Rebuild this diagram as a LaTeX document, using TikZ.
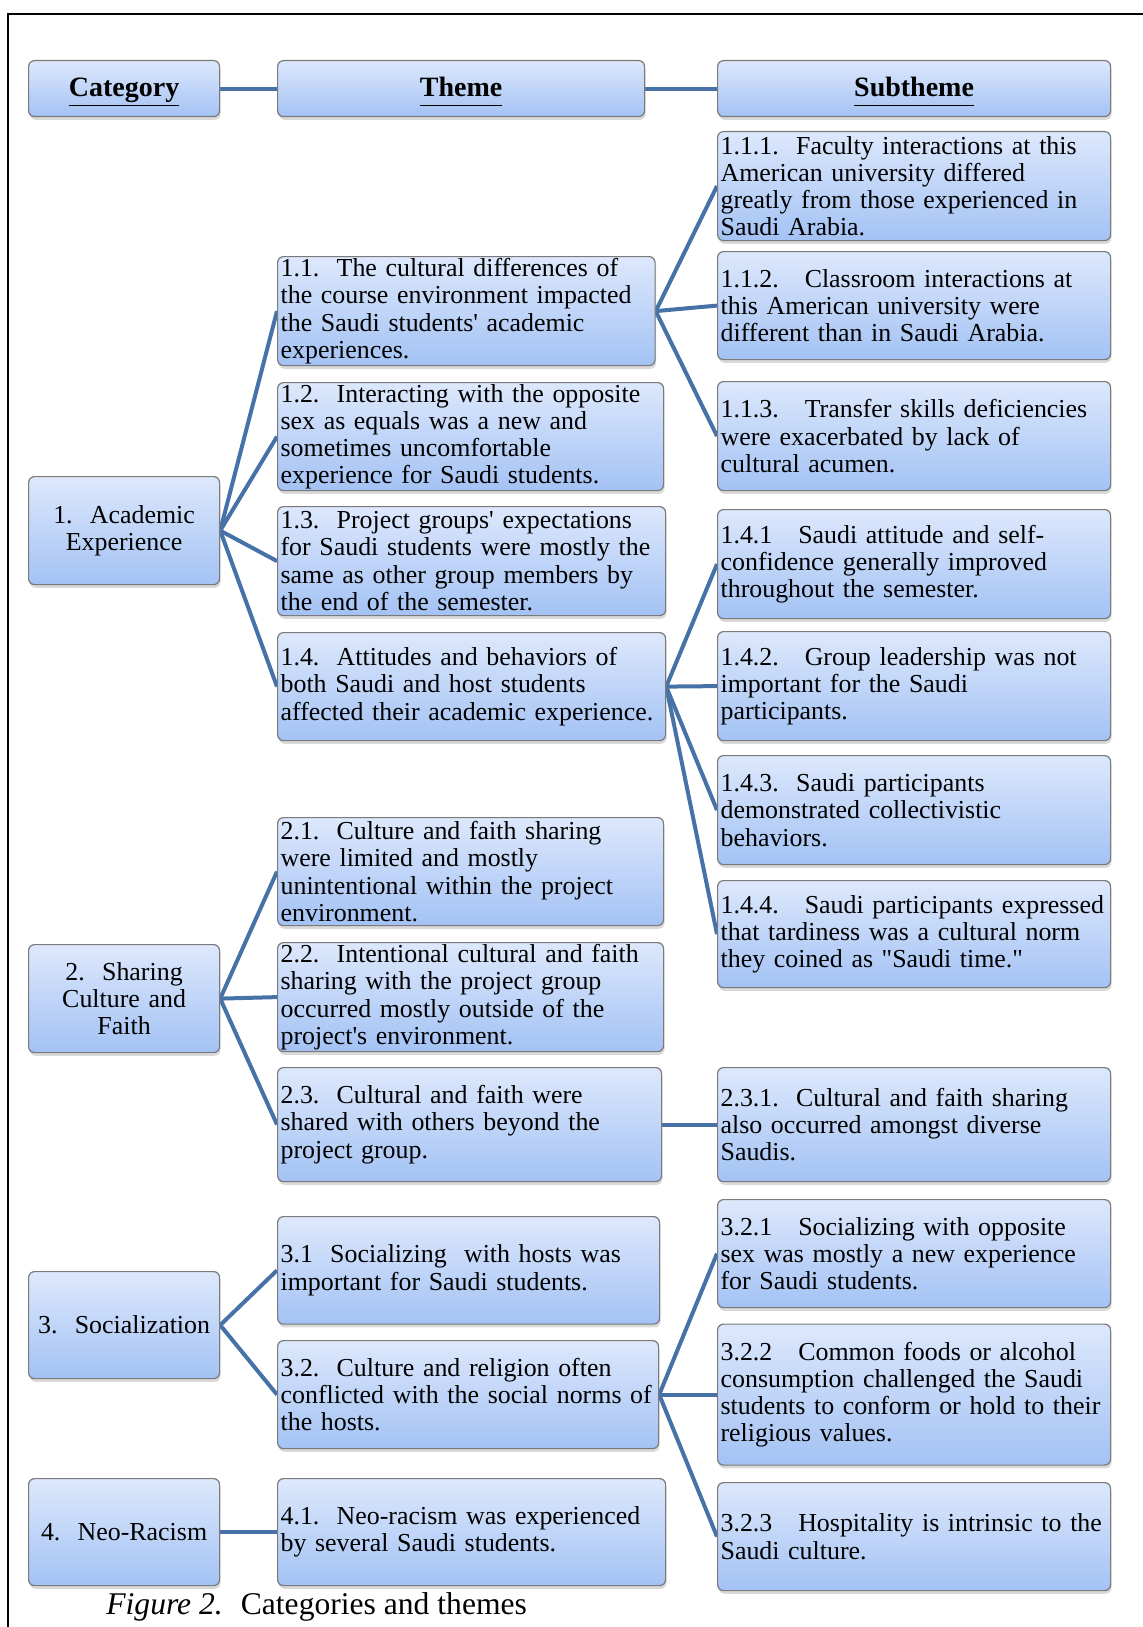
\documentclass[tikz,border=0pt]{standalone}
\usepackage{fontspec}
\setmainfont{Liberation Serif}
\usetikzlibrary{shadows,backgrounds}

\definecolor{boxtop}{RGB}{221,232,252}
\definecolor{boxbot}{RGB}{163,194,244}
\definecolor{boxline}{RGB}{122,122,122}
\definecolor{linkblue}{RGB}{71,114,168}

\hyphenpenalty=10000
\newcommand{\hdrline}[1]{\underline{#1\vphantom{hgy}}}

\begin{document}
\begin{tikzpicture}[x=0.5pt,y=-0.5pt,
  basebox/.style={draw=boxline, line width=0.6pt, rounded corners=3pt,
    top color=boxtop, bottom color=boxbot,
    drop shadow={shadow xshift=0.5pt, shadow yshift=-1.6pt, opacity=0.3},
    anchor=north west, inner xsep=1.5pt, inner ysep=0pt,
    font=\fontsize{12.95}{13.6}\selectfont},
  hdrbox/.style={basebox, align=center, minimum height=28pt, text height=12.5pt,
    font=\fontsize{14}{16}\selectfont\bfseries},
  catbox/.style={basebox, align=center, text width=92.5pt},
  themebox/.style={basebox, align=left},
  subbox/.style={basebox, align=left, text width=193.5pt},
  link/.style={draw=linkblue, line width=2pt}]
\useasboundingbox (0,0) rectangle (1143,1627);

% frame
\draw[line width=1pt] (7.5,1627) -- (7.5,14) -- (1143,14);

% header row
\node[hdrbox, minimum width=95.5pt] (hcat) at (28,60) {\hdrline{Category}};
\node[hdrbox, minimum width=183.5pt] (htheme) at (277,60) {\hdrline{Theme}};
\node[hdrbox, minimum width=196.5pt] (hsub) at (717,60) {\hdrline{Subtheme}};

% categories
\node[catbox, minimum height=54pt] (c1) at (28,476) {1.~~Academic\\Experience};
\node[catbox, minimum height=54pt] (c2) at (28,944) {2.~~Sharing\\Culture and\\Faith};
\node[catbox, minimum height=53.5pt] (c3) at (28,1271) {3.~~Socialization};
\node[catbox, minimum height=53.5pt] (c4) at (28,1478) {4.~~Neo-Racism};

% themes
\node[themebox, text width=185.75pt, minimum height=54.5pt] (t11) at (277,256)
  {1.1.~~The cultural differences of\\the course environment impacted\\the Saudi students\textquotesingle{} academic\\experiences.};
\node[themebox, text width=190pt, minimum height=54pt] (t12) at (277,382)
  {1.2.~~Interacting with the opposite\\sex as equals was a new and\\sometimes uncomfortable\\experience for Saudi students.};
\node[themebox, text width=191pt, minimum height=54.5pt] (t13) at (277,506)
  {1.3.~~Project groups\textquotesingle{} expectations\\for Saudi students were mostly the\\same as other group members by\\the end of the semester.};
\node[themebox, text width=191pt, minimum height=54pt] (t14) at (277,632)
  {1.4.~~Attitudes and behaviors of\\both Saudi and host students\\affected their academic experience.};
\node[themebox, text width=190pt, minimum height=54pt] (t21) at (277,817)
  {2.1.~~Culture and faith sharing\\were limited and mostly\\unintentional within the project\\environment.};
\node[themebox, text width=190pt, minimum height=54.5pt] (t22) at (277,942)
  {2.2.~~Intentional cultural and faith\\sharing with the project group\\occurred mostly outside of the\\project\textquotesingle{}s environment.};
\node[themebox, text width=189pt, minimum height=57pt] (t23) at (277,1067)
  {2.3.~~Cultural and faith were\\shared with others beyond the\\project group.};
\node[themebox, text width=188pt, minimum height=53.75pt] (t31) at (277,1216)
  {3.1~~Socializing~~with hosts was\\important for Saudi students.};
\node[themebox, text width=187.5pt, minimum height=54pt] (t32) at (277,1340)
  {3.2.~~Culture and religion often\\conflicted with the social norms of\\the hosts.};
\node[themebox, text width=191pt, minimum height=53.5pt] (t41) at (277,1478)
  {4.1.~~Neo-racism was experienced\\by several Saudi students.};

% subthemes
\node[subbox, minimum height=54.5pt] (s111) at (717,131)
  {1.1.1.~~Faculty interactions at this\\American university differed\\greatly from those experienced in\\Saudi Arabia.};
\node[subbox, minimum height=54pt] (s112) at (717,251)
  {1.1.2.~~~Classroom interactions at\\this American university were\\different than in Saudi Arabia.};
\node[subbox, minimum height=54.5pt] (s113) at (717,381)
  {1.1.3.~~~Transfer skills deficiencies\\were exacerbated by lack of\\cultural acumen.};
\node[subbox, minimum height=54.5pt] (s141) at (717,509)
  {1.4.1~~~Saudi attitude and self-\\confidence generally improved\\throughout the semester.};
\node[subbox, minimum height=54.5pt] (s142) at (717,631)
  {1.4.2.~~~Group leadership was not\\important for the Saudi\\participants.};
\node[subbox, minimum height=54.5pt] (s143) at (717,755)
  {1.4.3.~~Saudi participants\\demonstrated collectivistic\\behaviors.};
\node[subbox, minimum height=53.5pt] (s144) at (717,880)
  {1.4.4.~~~Saudi participants expressed\\that tardiness was a cultural norm\\they coined as \textquotedbl Saudi time.\textquotedbl};
\node[subbox, minimum height=57pt] (s231) at (717,1067)
  {2.3.1.~~Cultural and faith sharing\\also occurred amongst diverse\\Saudis.};
\node[subbox, minimum height=54pt] (s321) at (717,1199)
  {3.2.1~~~Socializing with opposite\\sex was mostly a new experience\\for Saudi students.};
\node[subbox, minimum height=70.5pt] (s322) at (717,1323.5)
  {3.2.2~~~Common foods or alcohol\\consumption challenged the Saudi\\students to conform or hold to their\\religious values.};
\node[subbox, minimum height=54pt] (s323) at (717,1482)
  {3.2.3~~~Hospitality is intrinsic to the\\Saudi culture.};

% caption
\node[anchor=base west, inner sep=0pt, font=\fontsize{15.8}{18}\selectfont] (cap) at (106,1614)
  {\textit{Figure 2.}\hspace{9pt}Categories and themes};

% connectors
\begin{scope}[on background layer]
\draw[link] (hcat.east) -- (htheme.west);
\draw[link] (htheme.east) -- (hsub.west);
\foreach \t in {t11,t12,t13,t14} {
\draw[link] (c1.east) -- (\t.west);
}
\foreach \t in {t21,t22,t23} {
\draw[link] (c2.east) -- (\t.west);
}
\foreach \t in {t31,t32} {
\draw[link] (c3.east) -- (\t.west);
}
\draw[link] (c4.east) -- (t41.west);
\foreach \s in {s111,s112,s113} {
\draw[link] (t11.east) -- (\s.west);
}
\foreach \s in {s141,s142,s143,s144} {
\draw[link] (t14.east) -- (\s.west);
}
\draw[link] (t23.east) -- (s231.west);
\foreach \s in {s321,s322,s323} {
\draw[link] (t32.east) -- (\s.west);
}
\end{scope}
\end{tikzpicture}
\end{document}
